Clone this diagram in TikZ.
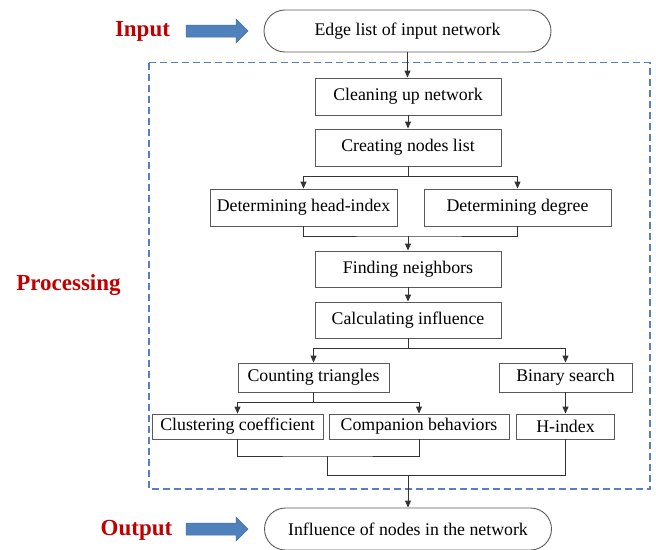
\documentclass[tikz,border=0pt]{standalone}
\usepackage{fontspec}
\setmainfont{Liberation Serif}
\usetikzlibrary{arrows.meta}
\definecolor{framblue}{HTML}{5B7EC2}
\definecolor{arrblue}{HTML}{4F81BD}
\definecolor{labred}{HTML}{C00000}
\definecolor{boxgray}{HTML}{5A5A5A}
\tikzset{
  stepbox/.style={draw=boxgray, line width=0.9pt, rectangle, inner sep=0pt,
    font=\fontsize{17.8}{20}\selectfont},
  termbox/.style={draw=boxgray, line width=0.9pt, rectangle, rounded corners=21pt,
    inner sep=0pt, minimum width=287pt, minimum height=42pt,
    font=\fontsize{17.8}{20}\selectfont},
  phase/.style={text=labred, font=\fontsize{23}{26}\selectfont\bfseries, inner sep=0pt},
  bigarrow/.style={fill=arrblue, draw=arrblue!85!black, line width=0.5pt},
  link/.style={draw=black!80, line width=0.9pt},
  arr/.style={link, -{Triangle[length=7pt,width=6pt]}}
}
\begin{document}
\begin{tikzpicture}[x=1pt,y=-1pt]
\useasboundingbox (0,0) rectangle (656,549);

% processing frame
\draw[framblue, line width=1.1pt, dash pattern=on 7pt off 4pt] (149,62.5) rectangle (650,489);

% phase labels
\node[phase] (lin) at (142.5,31) {Input};
\node[phase] (lproc) at (68.5,285) {Processing};
\node[phase] (lout) at (136.5,530) {Output};

% block arrows beside the labels
\draw[bigarrow] (186,25) -- (236,25) -- (236,19) -- (248,31) -- (236,43) -- (236,37) -- (186,37) -- cycle;
\draw[bigarrow] (186,523) -- (236,523) -- (236,517) -- (248,529) -- (236,541) -- (236,535) -- (186,535) -- cycle;

% terminals
\node[termbox] (inp) at (407.5,31) {Edge list of input network};
\node[termbox] (outp) at (408,529) {Influence of nodes in the network};

% main chain
\node[stepbox, minimum width=186pt, minimum height=37pt] (clean) at (408,96.5) {Cleaning up network};
\node[stepbox, minimum width=186pt, minimum height=37pt] (create) at (408,147.5) {Creating nodes list};
\node[stepbox, minimum width=187pt, minimum height=37pt] (head) at (303.5,207.5) {Determining head-index};
\node[stepbox, minimum width=187pt, minimum height=37pt] (deg) at (517.5,207.5) {Determining degree};
\node[stepbox, minimum width=186pt, minimum height=36pt] (find) at (408,269) {Finding neighbors};
\node[stepbox, minimum width=186pt, minimum height=36pt] (calc) at (408,320) {Calculating influence};
\node[stepbox, minimum width=151pt, minimum height=29pt] (count) at (313.5,377.5) {Counting triangles};
\node[stepbox, minimum width=133pt, minimum height=29pt] (bin) at (565.5,377.5) {Binary search};
\node[stepbox, minimum width=171pt, minimum height=25pt] (clust) at (237.5,426.5) {Clustering coefficient};
\node[stepbox, minimum width=180pt, minimum height=25pt] (comp) at (419,426.5) {Companion behaviors};
\node[stepbox, minimum width=98pt, minimum height=25pt] (hidx) at (565.5,426.5) {H-index};

% junction points
\coordinate (s1) at (408,176);
\coordinate (m1) at (408,236);
\coordinate (s2) at (408,348);
\coordinate (s3) at (313.5,402);
\coordinate (m2) at (327,456);
\coordinate (m3) at (327,475);
\coordinate (m4) at (408,475);

% connectors
\draw[arr] (inp.south) -- (inp.south |- clean.north);
\draw[arr] (clean.south) -- (create.north);
\draw[link] (create.south) -- (s1);
\draw[arr] (s1) -| (head.north);
\draw[arr] (s1) -| (deg.north);
\draw[link] (head.south) |- (m1) -| (deg.south);
\draw[arr] (m1) -- (find.north);
\draw[arr] (find.south) -- (calc.north);
\draw[link] (calc.south) -- (s2);
\draw[arr] (s2) -| (count.north);
\draw[arr] (s2) -| (bin.north);
\draw[link] (count.south) -- (s3);
\draw[arr] (s3) -| (clust.north);
\draw[arr] (s3) -| (comp.north);
\draw[arr] (bin.south) -- (hidx.north);
\draw[link] (clust.south) |- (m2) -| (comp.south);
\draw[link] (m2) -- (m3) -| (hidx.south);
\draw[arr] (m4) -- (outp.north);
\end{tikzpicture}
\end{document}
